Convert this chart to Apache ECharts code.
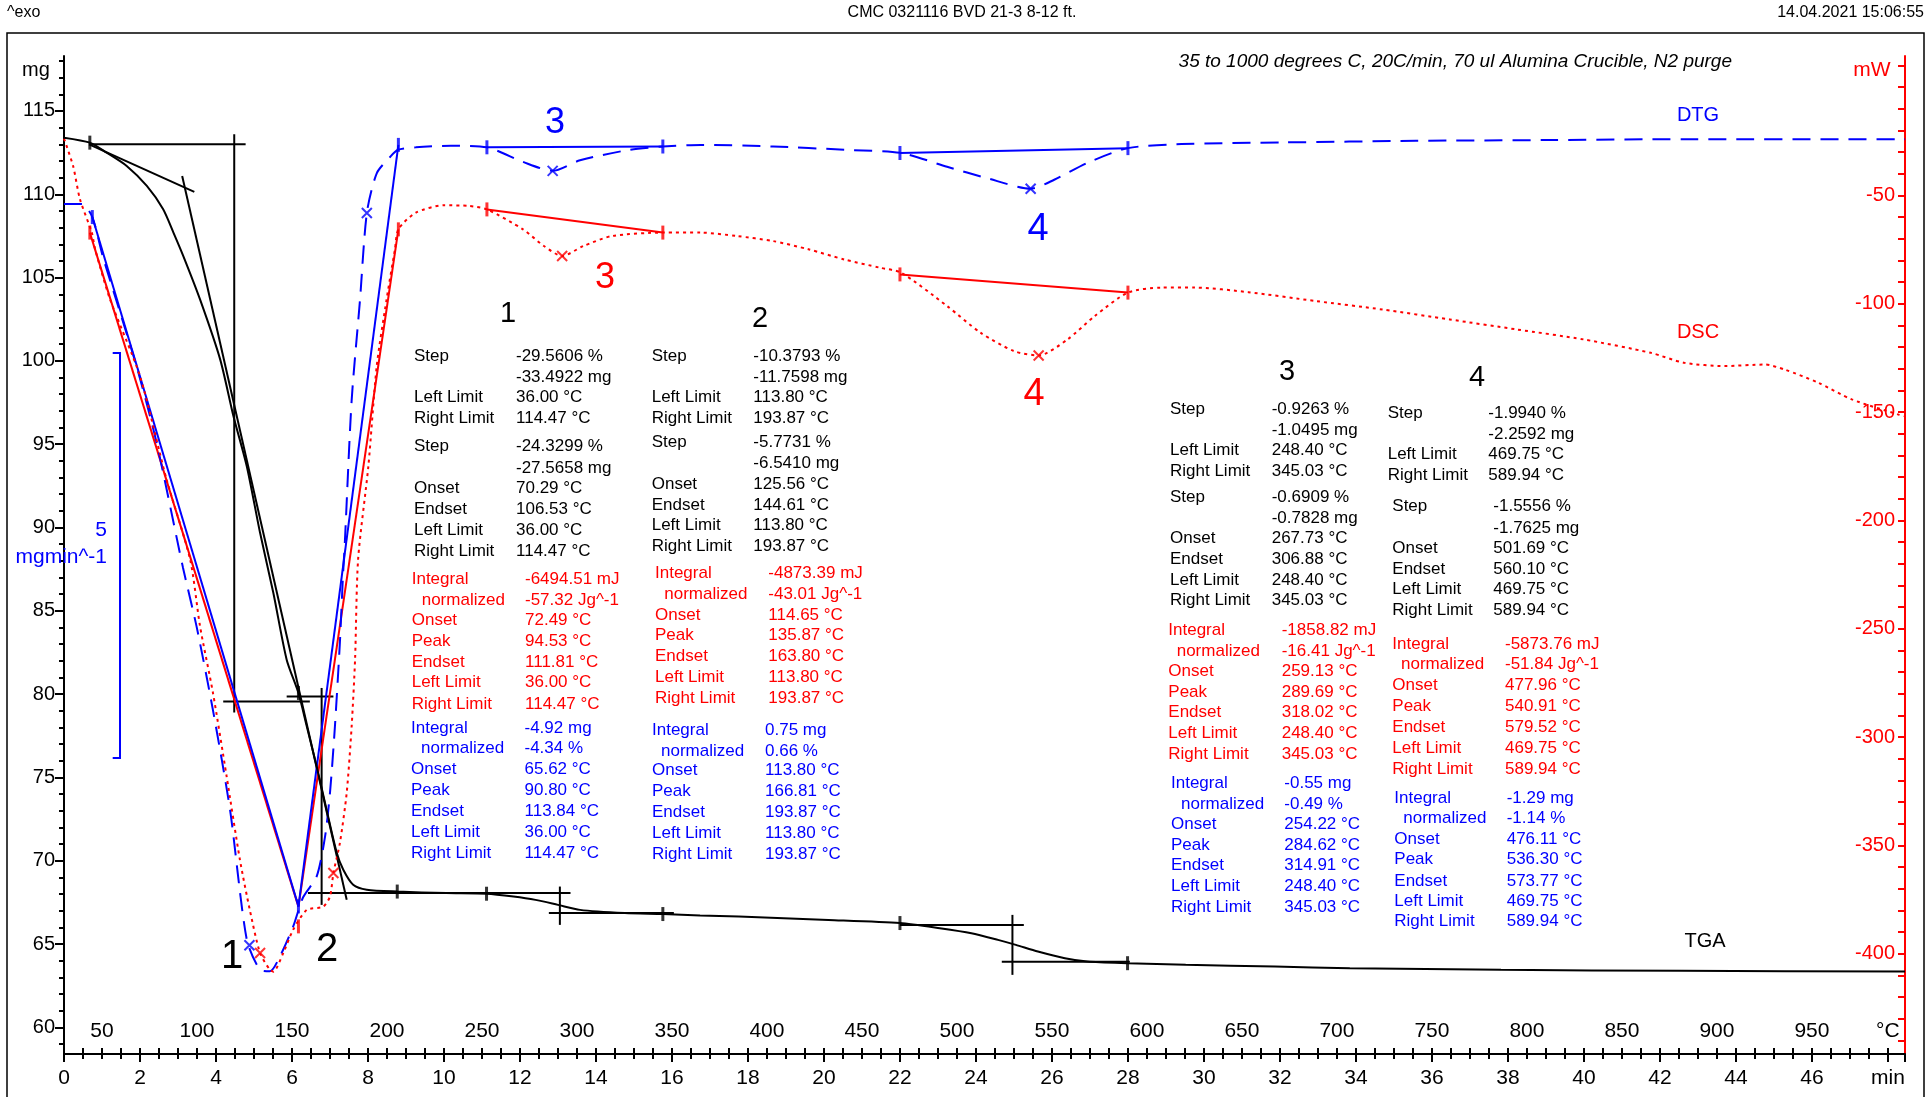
<!DOCTYPE html>
<html>
<head>
<meta charset="utf-8">
<title>CMC 0321116 BVD 21-3 8-12 ft.</title>
<script src="https://cdn.jsdelivr.net/npm/echarts@6/dist/echarts.min.js"></script>
<style>
  html, body { margin: 0; padding: 0; background: #fff; }
  #chart { width: 1931px; height: 1097px; }
</style>
</head>
<body>
<div id="chart"></div>
<script>
// --- curves (time in min) ---
var tgaTime = [0.0, 0.68, 1.12, 1.65, 2.18, 2.61, 2.88, 3.14, 3.58, 4.11, 4.46, 4.81, 5.16, 5.51, 5.86, 6.17, 6.39, 6.65, 6.91, 7.18, 7.35, 7.61, 7.97, 8.77, 10.06, 11.12, 11.83, 12.41, 13.0, 13.58, 14.76, 15.76, 16.74, 17.76, 20.12, 22.0, 23.05, 23.88, 24.58, 25.05, 25.63, 26.34, 26.93, 27.99, 29.52, 31.87, 33.84, 37.82, 42.58, 48.45];
var tgaMass = [113.40, 113.10, 112.50, 111.70, 110.50, 109.10, 107.70, 106.29, 103.69, 100.09, 96.68, 93.68, 89.68, 86.07, 82.07, 80.07, 78.06, 75.66, 73.06, 70.46, 69.46, 68.56, 68.26, 68.15, 68.06, 68.02, 67.85, 67.65, 67.35, 67.05, 66.86, 66.80, 66.71, 66.65, 66.45, 66.26, 65.95, 65.65, 65.25, 64.95, 64.55, 64.15, 63.95, 63.85, 63.75, 63.65, 63.55, 63.45, 63.39, 63.35];

var dtgTime = [0.0, 0.47, 0.745, 1.03, 1.91, 2.44, 3.13, 3.49, 3.92, 4.37, 4.81, 5.16, 5.42, 5.68, 6.03, 6.29, 6.65, 6.87, 7.00, 7.13, 7.26, 7.34, 7.39, 7.57, 7.79, 7.97, 8.23, 8.58, 8.79, 9.26, 10.18, 11.13, 12.08, 12.86, 13.58, 14.89, 15.76, 16.76, 18.66, 20.53, 22.03, 23.24, 24.29, 25.44, 26.06, 26.94, 28.0, 29.41, 32.06, 35.58, 39.11, 42.64, 48.45];
var dtgRate = [-0.79, -0.79, -0.95, -1.45, -2.79, -3.74, -5.27, -6.00, -7.03, -8.26, -9.86, -10.23, -10.25, -10.07, -9.70, -9.34, -9.08, -8.59, -8.05, -7.23, -6.20, -5.39, -4.97, -3.21, -1.97, -0.90, -0.41, -0.21, -0.12, -0.09, -0.07, -0.09, -0.27, -0.38, -0.25, -0.12, -0.08, -0.06, -0.08, -0.12, -0.16, -0.33, -0.47, -0.60, -0.49, -0.28, -0.10, -0.05, -0.03, -0.01, 0.0, 0.01, 0.01];

var dscTime = [0.0, 0.24, 0.42, 0.73, 0.82, 1.21, 2.0, 2.70, 3.32, 3.58, 3.92, 4.28, 4.63, 4.89, 5.16, 5.42, 5.51, 5.77, 6.03, 6.39, 6.82, 7.0, 7.09, 7.26, 7.44, 7.57, 7.66, 7.74, 8.01, 8.23, 8.49, 8.71, 8.80, 9.26, 10.0, 10.66, 11.13, 12.08, 12.63, 13.11, 13.67, 14.42, 15.76, 16.76, 17.71, 18.66, 19.59, 20.53, 21.47, 22.03, 23.24, 24.12, 25.0, 25.65, 26.41, 27.12, 28.0, 28.88, 29.76, 31.17, 32.94, 34.70, 36.47, 38.23, 39.99, 41.76, 42.64, 43.70, 44.76, 45.28, 46.17, 47.05, 48.28, 48.45];
var dscHeat = [-23.8, -36.5, -51.8, -67.1, -74.9, -97.9, -133.5, -181.2, -218.1, -248.9, -279.6, -318.2, -356.7, -379.8, -399.7, -407.5, -408.3, -399.7, -389.0, -379.8, -378.3, -373.6, -362.8, -349.0, -325.7, -295.1, -264.3, -218.1, -175.0, -128.8, -98.0, -74.9, -65.7, -58.0, -54.6, -54.9, -56.5, -65.7, -73.4, -78.0, -73.4, -68.8, -67.2, -67.2, -68.8, -71.1, -74.9, -79.6, -83.4, -85.7, -101.1, -113.4, -121.9, -123.9, -116.5, -105.8, -94.9, -92.6, -92.6, -94.7, -98.8, -102.7, -107.3, -111.9, -116.5, -122.7, -127.3, -128.8, -128.1, -130.4, -136.5, -144.2, -151.2, -152.0];

// --- evaluation lines ---
var tgaStepLines = [
    [[0.66, 113.0], [4.78, 113.0]],
    [[4.48, 113.6], [4.48, 78.9]],
    [[4.19, 79.56], [6.47, 79.56]],
    [[0.66, 113.0], [3.43, 110.14]],
    [[3.11, 111.1], [7.44, 67.66]],
    [[5.86, 79.86], [7.09, 79.86]],
    [[6.78, 80.37], [6.78, 67.35]],
    [[6.42, 68.06], [13.33, 68.06]],
    [[12.76, 66.86], [16.05, 66.86]],
    [[13.05, 68.45], [13.05, 66.15]],
    [[22.0, 66.15], [25.26, 66.15]],
    [[24.68, 63.93], [28.05, 63.93]],
    [[24.96, 66.75], [24.96, 63.15]]
];
var dscBaselines = [
    [[0.68, -67.2], [6.17, -378.3]],
    [[6.17, -378.3], [8.80, -65.7]],
    [[11.13, -56.5], [15.76, -67.2]],
    [[22.0, -86.5], [28.0, -94.9]]
];
var dtgBaselines = [
    [[0.745, -0.95], [6.17, -9.45]],
    [[6.17, -9.45], [8.80, -0.06]],
    [[11.13, -0.09], [15.76, -0.08]],
    [[22.0, -0.16], [28.0, -0.10]]
];
var dtgPeaks = [[4.88, -9.93], [7.97, -0.90], [12.86, -0.38], [25.44, -0.60]];
var dscPeaks = [[5.16, -399.7], [7.09, -362.8], [13.11, -78.0], [25.65, -123.9]];
var tgaLimits = [[0.68, 113.1], [6.17, 80.07], [8.77, 68.15], [11.12, 68.02], [15.76, 66.8], [22.0, 66.26], [27.99, 63.85]];
var dtgLimits = [[0.745, -0.95], [6.17, -9.45], [8.80, -0.06], [11.13, -0.09], [15.76, -0.08], [22.0, -0.16], [28.0, -0.10]];
var dscLimits = [[0.68, -67.2], [6.17, -387.4], [8.80, -65.7], [11.13, -56.5], [15.76, -67.2], [22.0, -86.5], [28.0, -94.9]];

// --- axis ticks ---
var mgLabels = [60, 65, 70, 75, 80, 85, 90, 95, 100, 105, 110, 115];
var mgMinor = [];
for (var m = 59; m <= 118; m++) mgMinor.push(m);
var mwLabels = [-400, -350, -300, -250, -200, -150, -100, -50];
var mwTicks = [];
for (var w = -440; w <= 10; w += 10) mwTicks.push(w);
var tempLabels = [50, 100, 150, 200, 250, 300, 350, 400, 450, 500, 550, 600, 650, 700, 750, 800, 850, 900, 950, 990];
var tempTicks = [];
for (var c = 40; c <= 990; c += 10) tempTicks.push(c);

var BLACK = '#000000', RED = '#ff0000', BLUE = '#0000ff';
var FONT = '"Liberation Sans", Arial, sans-serif';

function zip(a, b) {
    return a.map(function(v, i) { return [v, b[i]]; });
}

// tables: [label, value, y, labelX override]
var tables = [
    {lx: 414, vx: 516, color: BLACK, rows: [
        ['Step', '-29.5606 %', 356.7], ['', '-33.4922 mg', 377.3], ['Left Limit', '36.00 °C', 397.3], ['Right Limit', '114.47 °C', 418.3],
        ['Step', '-24.3299 %', 446.7], ['', '-27.5658 mg', 468.3], ['Onset', '70.29 °C', 488.3], ['Endset', '106.53 °C', 509.3],
        ['Left Limit', '36.00 °C', 530], ['Right Limit', '114.47 °C', 551.7]]},
    {lx: 411.7, vx: 525, color: RED, rows: [
        ['Integral', '-6494.51 mJ', 579.3], ['normalized', '-57.32 Jg^-1', 600, 421.7], ['Onset', '72.49 °C', 620.7], ['Peak', '94.53 °C', 641],
        ['Endset', '111.81 °C', 662.3], ['Left Limit', '36.00 °C', 682.7], ['Right Limit', '114.47 °C', 704]]},
    {lx: 411, vx: 524.5, color: BLUE, rows: [
        ['Integral', '-4.92 mg', 728], ['normalized', '-4.34 %', 748.7, 421], ['Onset', '65.62 °C', 769.7], ['Peak', '90.80 °C', 790.6],
        ['Endset', '113.84 °C', 811.6], ['Left Limit', '36.00 °C', 832.5], ['Right Limit', '114.47 °C', 853.4]]},
    {lx: 651.7, vx: 753.3, color: BLACK, rows: [
        ['Step', '-10.3793 %', 356.7], ['', '-11.7598 mg', 377.3], ['Left Limit', '113.80 °C', 397.3], ['Right Limit', '193.87 °C', 418.3],
        ['Step', '-5.7731 %', 442.7], ['', '-6.5410 mg', 463.3], ['Onset', '125.56 °C', 484.3], ['Endset', '144.61 °C', 505],
        ['Left Limit', '113.80 °C', 525.7], ['Right Limit', '193.87 °C', 546.7]]},
    {lx: 655, vx: 768.3, color: RED, rows: [
        ['Integral', '-4873.39 mJ', 573.3], ['normalized', '-43.01 Jg^-1', 594, 664.3], ['Onset', '114.65 °C', 615], ['Peak', '135.87 °C', 635.7],
        ['Endset', '163.80 °C', 656.7], ['Left Limit', '113.80 °C', 677.3], ['Right Limit', '193.87 °C', 698.3]]},
    {lx: 652, vx: 765, color: BLUE, rows: [
        ['Integral', '0.75 mg', 730], ['normalized', '0.66 %', 751.7, 661], ['Onset', '113.80 °C', 770.7], ['Peak', '166.81 °C', 791.7],
        ['Endset', '193.87 °C', 812.7], ['Left Limit', '113.80 °C', 833.3], ['Right Limit', '193.87 °C', 854]]},
    {lx: 1170, vx: 1271.7, color: BLACK, rows: [
        ['Step', '-0.9263 %', 409.2], ['', '-1.0495 mg', 430.3], ['Left Limit', '248.40 °C', 450.6], ['Right Limit', '345.03 °C', 471.3],
        ['Step', '-0.6909 %', 497.2], ['', '-0.7828 mg', 518.3], ['Onset', '267.73 °C', 538.7], ['Endset', '306.88 °C', 559],
        ['Left Limit', '248.40 °C', 580.1], ['Right Limit', '345.03 °C', 600.8]]},
    {lx: 1168.3, vx: 1281.7, color: RED, rows: [
        ['Integral', '-1858.82 mJ', 630], ['normalized', '-16.41 Jg^-1', 651.5, 1176.7], ['Onset', '259.13 °C', 671.1], ['Peak', '289.69 °C', 692.2],
        ['Endset', '318.02 °C', 712.6], ['Left Limit', '248.40 °C', 733.6], ['Right Limit', '345.03 °C', 754.4]]},
    {lx: 1171, vx: 1284.3, color: BLUE, rows: [
        ['Integral', '-0.55 mg', 782.9], ['normalized', '-0.49 %', 804, 1181], ['Onset', '254.22 °C', 824.3], ['Peak', '284.62 °C', 845],
        ['Endset', '314.91 °C', 865.4], ['Left Limit', '248.40 °C', 886.4], ['Right Limit', '345.03 °C', 907.5]]},
    {lx: 1387.7, vx: 1488.3, color: BLACK, rows: [
        ['Step', '-1.9940 %', 412.9], ['', '-2.2592 mg', 434.4], ['Left Limit', '469.75 °C', 454.3], ['Right Limit', '589.94 °C', 475.8]]},
    {lx: 1392.3, vx: 1493.3, color: BLACK, rows: [
        ['Step', '-1.5556 %', 506.1], ['', '-1.7625 mg', 528.3], ['Onset', '501.69 °C', 547.9], ['Endset', '560.10 °C', 569],
        ['Left Limit', '469.75 °C', 589.7], ['Right Limit', '589.94 °C', 610.8]]},
    {lx: 1392.3, vx: 1505, color: RED, rows: [
        ['Integral', '-5873.76 mJ', 644.1], ['normalized', '-51.84 Jg^-1', 664.5, 1401], ['Onset', '477.96 °C', 685.6], ['Peak', '540.91 °C', 706.3],
        ['Endset', '579.52 °C', 727.4], ['Left Limit', '469.75 °C', 748.5], ['Right Limit', '589.94 °C', 769.2]]},
    {lx: 1394.3, vx: 1506.7, color: BLUE, rows: [
        ['Integral', '-1.29 mg', 798.4], ['normalized', '-1.14 %', 818.7, 1403.3], ['Onset', '476.11 °C', 839.5], ['Peak', '536.30 °C', 859.8],
        ['Endset', '573.77 °C', 880.9], ['Left Limit', '469.75 °C', 901.2], ['Right Limit', '589.94 °C', 921.6]]}
];

function txt(x, y, s, color, size, align, extra) {
    return {
        type: 'text', x: x, y: y, z: 100, silent: true,
        style: {
            text: s, fill: color, font: (extra || '') + size + 'px ' + FONT,
            textAlign: align || 'left', textVerticalAlign: 'middle'
        }
    };
}

function buildGraphics() {
    var g = [];
    // outer frame
    g.push({type: 'rect', z: 1, silent: true, shape: {x: 7, y: 33, width: 1917, height: 1075},
        style: {fill: 'none', stroke: BLACK, lineWidth: 1.5}});
    g.push(txt(7, 13, '^exo', BLACK, 16));
    g.push(txt(962, 13, 'CMC 0321116 BVD 21-3 8-12 ft.', BLACK, 16, 'center'));
    g.push(txt(1924, 13, '14.04.2021 15:06:55', BLACK, 16, 'right'));
    g.push(txt(1732, 62, '35 to 1000 degrees C, 20C/min, 70 ul Alumina Crucible, N2 purge', BLACK, 19, 'right', 'italic '));
    g.push(txt(36, 70, 'mg', BLACK, 20, 'center'));
    g.push(txt(1872, 70, 'mW', RED, 21, 'center'));
    g.push(txt(1698, 115, 'DTG', BLUE, 20, 'center'));
    g.push(txt(1698, 332, 'DSC', RED, 20, 'center'));
    g.push(txt(1705, 941, 'TGA', BLACK, 20, 'center'));
    // DTG scale bar
    g.push({type: 'polyline', z: 50, silent: true,
        shape: {points: [[112.7, 353], [120, 353], [120, 758], [112.7, 758]]},
        style: {stroke: BLUE, lineWidth: 2, fill: 'none'}});
    g.push(txt(107, 530, '5', BLUE, 21, 'right'));
    g.push(txt(107, 557, 'mgmin^-1', BLUE, 21, 'right'));
    // peak numbers
    g.push(txt(555, 123, '3', BLUE, 36, 'center'));
    g.push(txt(605, 278, '3', RED, 36, 'center'));
    g.push(txt(1038, 230, '4', BLUE, 38, 'center'));
    g.push(txt(1034, 395, '4', RED, 38, 'center'));
    g.push(txt(232, 957, '1', BLACK, 40, 'center'));
    g.push(txt(327, 950, '2', BLACK, 40, 'center'));
    // table headers
    g.push(txt(508, 314, '1', BLACK, 29, 'center'));
    g.push(txt(760, 319, '2', BLACK, 29, 'center'));
    g.push(txt(1287, 372, '3', BLACK, 29, 'center'));
    g.push(txt(1477, 378, '4', BLACK, 29, 'center'));
    tables.forEach(function(t) {
        t.rows.forEach(function(r) {
            if (r[0]) g.push(txt(r[3] || t.lx, r[2], r[0], t.color, 17));
            g.push(txt(t.vx, r[2], r[1], t.color, 17));
        });
    });
    return g;
}

function segSeries(list, yIdx, color) {
    return list.map(function(seg) {
        return {
            type: 'line', xAxisIndex: 0, yAxisIndex: yIdx, data: seg,
            symbol: 'none', silent: true, z: 3,
            lineStyle: {color: color, width: 2}
        };
    });
}

var crossPath = 'path://M0,0L10,10M10,0L0,10';

function markSeries(data, yIdx, color, symbol, size) {
    return {
        type: 'scatter', xAxisIndex: 0, yAxisIndex: yIdx, data: data, silent: true, z: 6,
        symbol: symbol, symbolSize: size,
        itemStyle: symbol === crossPath
            ? {color: 'rgba(0,0,0,0)', borderColor: color, borderWidth: 2}
            : {color: color}
    };
}

function init() {
    var chart = echarts.init(document.getElementById('chart'));

    var series = [
        {
            name: 'TGA', type: 'line', xAxisIndex: 0, yAxisIndex: 0,
            data: zip(tgaTime, tgaMass), symbol: 'none', smooth: 0.25, z: 5,
            lineStyle: {color: BLACK, width: 2}
        },
        {
            name: 'DTG', type: 'line', xAxisIndex: 0, yAxisIndex: 2,
            data: zip(dtgTime, dtgRate), symbol: 'none', smooth: 0.25, z: 4,
            lineStyle: {color: BLUE, width: 2, type: [18, 10]}
        },
        {
            name: 'DSC', type: 'line', xAxisIndex: 0, yAxisIndex: 1,
            data: zip(dscTime, dscHeat), symbol: 'none', smooth: 0.25, z: 4,
            lineStyle: {color: RED, width: 2, type: [3, 4]}
        }
    ];
    series = series.concat(segSeries(tgaStepLines, 0, BLACK));
    series = series.concat(segSeries(dscBaselines, 1, RED));
    series = series.concat(segSeries(dtgBaselines, 2, BLUE));
    series.push(markSeries(dtgPeaks, 2, BLUE, crossPath, 10));
    series.push(markSeries(dscPeaks, 1, RED, crossPath, 10));
    series.push(markSeries(tgaLimits, 0, BLACK, 'rect', [3, 14]));
    series.push(markSeries(dtgLimits, 2, BLUE, 'rect', [3, 14]));
    series.push(markSeries(dscLimits, 1, RED, 'rect', [3, 14]));

    var option = {
        animation: false,
        backgroundColor: '#ffffff',
        grid: {left: 64, right: 26, top: 56, bottom: 43, containLabel: false},
        xAxis: [
            {
                type: 'value', position: 'bottom', min: 0, max: 48.45, interval: 2,
                axisLine: {show: true, onZero: false, lineStyle: {color: BLACK, width: 2}},
                axisTick: {show: true, length: 8, lineStyle: {color: BLACK, width: 2}},
                minorTick: {show: true, splitNumber: 4, length: 5, lineStyle: {color: BLACK, width: 2}},
                splitLine: {show: false},
                axisLabel: {color: BLACK, fontFamily: FONT, fontSize: 21, margin: 14,
                    formatter: function(v) { return v === 48 ? 'min' : String(v); }}
            },
            {
                type: 'value', position: 'bottom', min: 30, max: 999,
                axisLine: {show: false, onZero: false},
                axisTick: {show: true, inside: true, customValues: tempTicks, length: 6, lineStyle: {color: BLACK, width: 2}},
                splitLine: {show: false},
                axisLabel: {inside: true, customValues: tempLabels, color: BLACK, fontFamily: FONT, fontSize: 21, margin: 12,
                    formatter: function(v) { return v === 990 ? '°C' : String(v); }}
            }
        ],
        yAxis: [
            {
                type: 'value', position: 'left', min: 58.4, max: 118.3,
                axisLine: {show: true, onZero: false, lineStyle: {color: BLACK, width: 2}},
                axisTick: {show: true, customValues: mgLabels, length: 9, lineStyle: {color: BLACK, width: 2}},
                splitLine: {show: false},
                axisLabel: {customValues: mgLabels, color: BLACK, fontFamily: FONT, fontSize: 20, margin: 9}
            },
            {
                type: 'value', position: 'right', min: -446.3, max: 14.3,
                axisLine: {show: true, onZero: false, lineStyle: {color: RED, width: 2}},
                axisTick: {show: true, inside: true, customValues: mwTicks, length: 7, lineStyle: {color: RED, width: 2}},
                splitLine: {show: false},
                axisLabel: {inside: true, customValues: mwLabels, color: RED, fontFamily: FONT, fontSize: 20, margin: 10}
            },
            {
                type: 'value', min: -11.27, max: 1.036, show: false,
                axisLine: {onZero: false},
                splitLine: {show: false}
            },
            {
                type: 'value', position: 'left', min: 58.4, max: 118.3,
                axisLine: {show: false, onZero: false},
                axisTick: {show: true, customValues: mgMinor, length: 5, lineStyle: {color: BLACK, width: 2}},
                splitLine: {show: false},
                axisLabel: {show: false}
            }
        ],
        series: series,
        graphic: buildGraphics()
    };
    chart.setOption(option);
    return chart;
}

init();
</script>
</body>
</html>
